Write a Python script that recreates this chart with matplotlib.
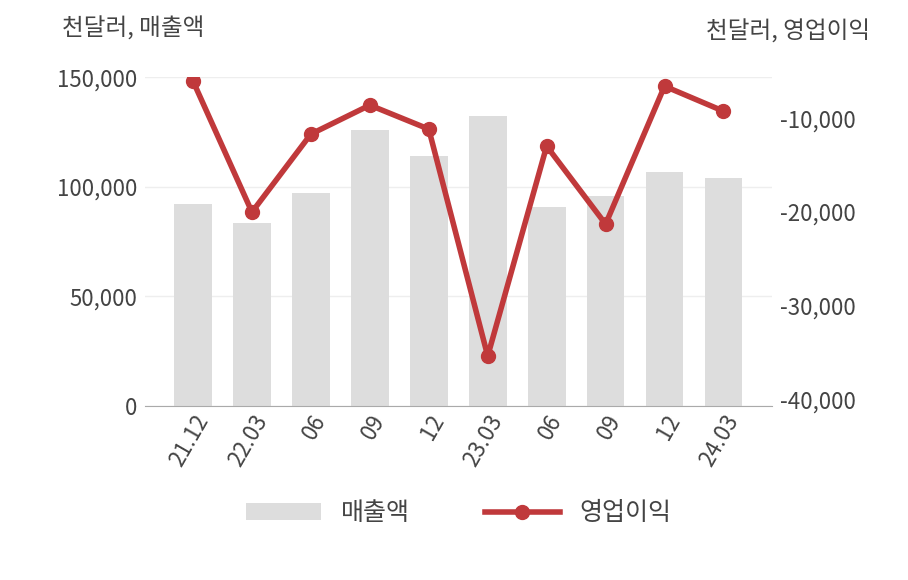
import matplotlib
matplotlib.use("Agg")
import matplotlib.pyplot as plt

plt.rcParams['font.family'] = ['Noto Sans CJK KR', 'DejaVu Sans']

categories = ["21.12", "22.03", "06", "09", "12", "23.03", "06", "09", "12", "24.03"]
sales = [92100, 83400, 97100, 125800, 114000, 132200, 90700, 95700, 106700, 104000]
op_income = [-6060, -20000, -11700, -8620, -11170, -35320, -12980, -21280, -6600, -9260]
left_ticks = [0, 50000, 100000, 150000]
right_ticks = [-40000, -30000, -20000, -10000]

fig = plt.figure(figsize=(9.08, 5.80), dpi=100)
ax = fig.add_axes([0.160, 0.300, 0.690, 0.567])
x = range(len(categories))
ax.bar(x, sales, width=0.64, color="#dddddd", label="매출액", zorder=1)
ax.set_ylim(0, 150000)
ax.set_xlim(-0.81, 9.82)
ax.set_yticks(left_ticks)
ax.set_yticklabels([f"{v:,}" for v in left_ticks])
ax.grid(axis='y', color="#eeeeee", linewidth=1)
ax.set_axisbelow(True)
for s in ["top", "right", "left"]:
    ax.spines[s].set_visible(False)
ax.spines["bottom"].set_color("#aaaaaa")
ax.tick_params(axis='y', length=0, labelsize=16, colors="#444444", pad=6)
ax.tick_params(axis='x', length=0, labelsize=16, colors="#444444")
ax.set_xticks(list(x))
ax.set_xticklabels(categories, rotation=60, ha="right", rotation_mode="anchor")

ax2 = ax.twinx()
ax2.plot(x, op_income, color="#c0393b", linewidth=4, marker="o", markersize=10, label="영업이익", zorder=3)
ax2.set_ylim(-40638, -5638)
ax2.set_yticks(right_ticks)
ax2.set_yticklabels([f"{v:,}" for v in right_ticks])
for s in ["top", "right", "left", "bottom"]:
    ax2.spines[s].set_visible(False)
ax2.tick_params(axis='y', length=0, labelsize=16, colors="#444444", pad=6)

fig.text(0.068, 0.950, "천달러, 매출액", fontsize=17, color="#444444", va="center")
fig.text(0.958, 0.945, "천달러, 영업이익", fontsize=17, color="#444444", va="center", ha="right")

h1, l1 = ax.get_legend_handles_labels()
h2, l2 = ax2.get_legend_handles_labels()
fig.legend(h1 + h2, l1 + l2, loc="center", bbox_to_anchor=(0.505, 0.115), ncol=2,
           frameon=False, fontsize=18, labelcolor="#444444", handlelength=3, columnspacing=3)

fig.savefig("out.png", dpi=100)
